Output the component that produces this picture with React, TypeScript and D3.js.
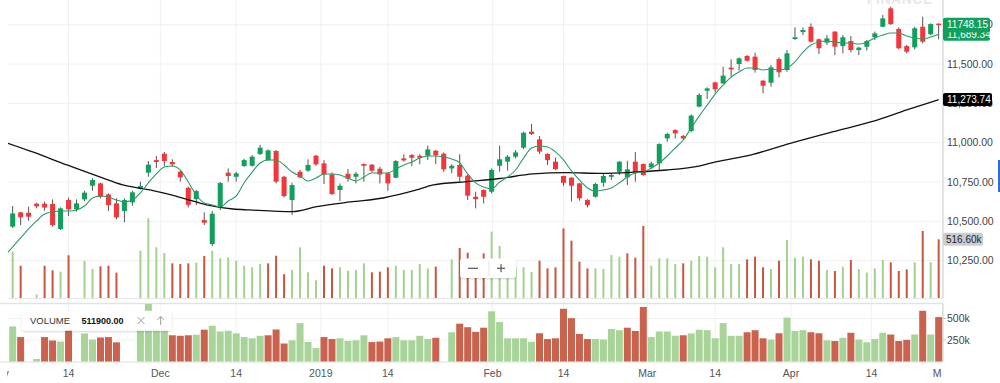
import React from "react";
import * as d3 from "d3";

// ---- Data ----
const opens = [
  10466, 10557, 10554, 10612, 10612, 10610, 10451, 10635, 10576, 10639,
  10726, 10741, 10671, 10614, 10565, 10620, 10707, 10809, 10889, 10930,
  10877, 10815, 10713, 10641, 10508, 10355, 10593, 10809, 10783, 10851,
  10853, 10928, 10889, 10947, 10783, 10635, 10815, 10822, 10917, 10868,
  10798, 10699, 10802, 10783, 10864, 10860, 10834, 10805, 10777, 10900,
  10921, 10917, 10917, 10949, 10930, 10836, 10858, 10790, 10656, 10699,
  10688, 10853, 10879, 10911, 10968, 11070, 11021, 10928, 10879, 10788,
  10777, 10741, 10635, 10656, 10745, 10783, 10815, 10779, 10879, 10864,
  10843, 10868, 11027, 11080, 11042, 11074, 11229, 11330, 11383, 11377,
  11477, 11500, 11551, 11547, 11394, 11381, 11532, 11462, 11659, 11703,
  11737, 11657, 11636, 11706, 11614, 11646, 11589, 11610, 11670, 11737,
  11854, 11723, 11614, 11606, 11737, 11689, 11757,
];
const highs = [
  10597, 10560, 10593, 10618, 10625, 10639, 10588, 10650, 10639, 10694,
  10773, 10745, 10677, 10646, 10646, 10694, 10752, 10883, 10915, 10941,
  10894, 10822, 10720, 10699, 10557, 10565, 10750, 10836, 10815, 10898,
  10921, 10985, 10957, 10953, 10788, 10745, 10826, 10894, 10921, 10889,
  10811, 10741, 10832, 10815, 10868, 10864, 10847, 10811, 10889, 10926,
  10928, 10926, 10981, 10953, 10938, 10862, 10926, 10798, 10688, 10703,
  10836, 10981, 10921, 10953, 11070, 11119, 11042, 10932, 10904, 10790,
  10780, 10744, 10641, 10745, 10805, 10805, 10883, 10885, 10941, 10868,
  10879, 10996, 11063, 11085, 11049, 11180, 11314, 11352, 11388, 11483,
  11530, 11542, 11557, 11572, 11398, 11494, 11542, 11589, 11733, 11733,
  11759, 11663, 11684, 11709, 11684, 11678, 11610, 11653, 11706, 11812,
  11864, 11733, 11621, 11737, 11801, 11759, 11757,
];
const lows = [
  10457, 10476, 10504, 10582, 10567, 10466, 10444, 10533, 10561, 10627,
  10694, 10646, 10565, 10512, 10493, 10599, 10703, 10783, 10839, 10851,
  10845, 10752, 10588, 10603, 10476, 10343, 10572, 10752, 10752, 10847,
  10847, 10921, 10885, 10741, 10652, 10540, 10773, 10815, 10853, 10737,
  10667, 10629, 10752, 10741, 10752, 10811, 10741, 10694, 10773, 10879,
  10851, 10862, 10889, 10864, 10815, 10805, 10752, 10635, 10582, 10614,
  10677, 10815, 10822, 10900, 10959, 11049, 10928, 10858, 10826, 10724,
  10625, 10631, 10588, 10650, 10720, 10762, 10794, 10730, 10752, 10790,
  10832, 10822, 11006, 11027, 11017, 11066, 11225, 11277, 11318, 11373,
  11419, 11458, 11515, 11445, 11314, 11356, 11415, 11451, 11653, 11684,
  11636, 11564, 11621, 11557, 11568, 11574, 11557, 11585, 11653, 11733,
  11748, 11593, 11568, 11593, 11631, 11684, 11657,
];
const closes = [
  10550, 10525, 10529, 10595, 10587, 10476, 10582, 10576, 10614, 10682,
  10762, 10656, 10603, 10525, 10635, 10684, 10724, 10860, 10877, 10883,
  10862, 10779, 10605, 10692, 10491, 10548, 10743, 10788, 10805, 10889,
  10911, 10968, 10951, 10752, 10660, 10730, 10779, 10858, 10862, 10798,
  10673, 10726, 10771, 10802, 10853, 10822, 10798, 10741, 10883, 10887,
  10904, 10904, 10957, 10921, 10830, 10853, 10783, 10663, 10641, 10656,
  10826, 10894, 10911, 10938, 11063, 11055, 10943, 10889, 10832, 10745,
  10726, 10646, 10603, 10737, 10788, 10794, 10879, 10830, 10811, 10794,
  10868, 10991, 11055, 11059, 11027, 11172, 11303, 11345, 11339, 11426,
  11466, 11536, 11521, 11462, 11362, 11479, 11447, 11568, 11670, 11716,
  11642, 11600, 11663, 11610, 11670, 11589, 11604, 11646, 11695, 11790,
  11754, 11600, 11578, 11727, 11642, 11754, 11748.15,
];
// volume in thousands, null = no bar
const volumes: (number | null)[] = [
  408, 284, null, 30, 284, 244, 232, 376, null, 326,
  255, 279, 284, 223, null, null, 416, 702, 446, 396,
  305, 299, 305, 311, 370, 416, 349, 358, 328, 284,
  270, 299, 305, 372, 209, 246, 446, 226, 156, 284,
  261, 270, 240, 246, 305, 226, 232, 270, 284, 246,
  246, 299, 261, 276, null, 340, 440, 399, 345, 393,
  584, 458, 270, 270, 270, 229, 328, 261, 270, 613,
  504, 320, 261, 261, 255, 378, 364, 393, 355, 634,
  284, 349, 349, 299, 305, 328, 370, 364, 270, 446,
  299, 299, 340, 364, 270, 255, 328, 511, 355, 364,
  340, 328, 246, 238, 276, 334, 255, 223, 261, 334,
  314, 238, 252, 314, 590, 314, 516.6,
];
const volumeDir =
  "gr-grrgr-g" + "grrr--gggg" + "rrrgrggggg" + "ggrrrggggr" + "rggggrrrgg" +
  "gggr-grrrr" + "ggggggrrrr" + "rrrggggrrr" + "ggggrggggg" + "ggrrrgrggg" +
  "rrgrgrgggg" + "rrrgrgr";
// short moving average, first value sits one bar before the first candle
const shortMA = [
  10279,
  10337, 10394, 10451, 10502, 10546, 10559, 10565, 10565, 10572, 10597,
  10648, 10661, 10654, 10635, 10623, 10635, 10680, 10744, 10801, 10845,
  10852, 10826, 10750, 10667, 10616, 10604, 10591, 10629, 10661, 10745,
  10813, 10871, 10890, 10890, 10858, 10813, 10788, 10756, 10775, 10801,
  10801, 10794, 10775, 10756, 10782, 10807, 10807, 10807, 10833, 10858,
  10877, 10902, 10915, 10915, 10909, 10896, 10871, 10801, 10744, 10718,
  10705, 10750, 10782, 10826, 10902, 10966, 10979, 10972, 10941, 10890,
  10820, 10763, 10712, 10693, 10699, 10712, 10744, 10782, 10807, 10813,
  10839, 10871, 10915, 10966, 11017, 11093, 11169, 11239, 11309, 11366,
  11417, 11449, 11475, 11475, 11462, 11468, 11462, 11475, 11513, 11576,
  11621, 11640, 11646, 11640, 11634, 11634, 11627, 11640, 11665, 11684,
  11697, 11697, 11678, 11665, 11659, 11672, 11689.34,
];
// long moving average (read at positions along the bar axis)
const longMAIdx = [
  -0.6, 2.5, 6.8, 10.9, 13.8, 17.2, 21.3, 24.3, 27.6, 29.7, 35, 38.1, 42.3, 46.4,
  50.6, 52.7, 56.9, 61, 65.2, 69.4, 73.6, 77.7, 81.9, 86.1, 88.2, 92.4, 97.4,
  102.8, 107.6, 112, 116,
];
const longMAVal = [
  10996, 10941, 10858, 10782, 10731, 10699, 10648, 10604, 10578, 10572, 10561,
  10593, 10623, 10648, 10699, 10731, 10752, 10772, 10801, 10809, 10805, 10812,
  10826, 10853, 10879, 10921, 10996, 11070, 11133, 11208, 11273.74,
];
const priceTicks = [10250, 10500, 10750, 11000, 11250, 11500, 11750];
const volumeTicks = [250, 500];
const volumeTickLabels = ["250k", "500k"];
const xTickLabels = ["Nov", "14", "Dec", "14", "2019", "14", "Feb", "14", "Mar", "14", "Apr", "14", "May"];
const xTickPos = [-1.65, 7, 18.5, 28, 38.6, 47, 60.1, 69, 79.5, 88, 97.5, 107.6, 116.5];
const lastPrice = 11748.15;
const lastShortMA = 11689.34;
const lastLongMA = 11273.74;
const lastVolume = 516.6;
const volumeReadout = "511900.00";

const FONT = "'Liberation Sans', Arial, Helvetica, sans-serif";

export default function App() {
  const W = 1000;
  const H = 383;
  const left = 8;
  const right = 943;
  const topBottom = 298;
  const botTop = 303.5;
  const botBottom = 361.5;

  const x = d3.scaleLinear().domain([0, closes.length - 1]).range([12.67, 938.67]);
  const y = d3.scaleLinear().domain([10250, 11750]).range([260.6, 24.7]);
  const vTop = d3.scaleLinear().domain([0, 516.6]).range([topBottom, 239.3]);
  const vBot = d3.scaleLinear().domain([0, 500]).range([botBottom, 318.5]);

  const fmt = d3.format(",.2f");
  const GREEN = "#0fa05c";
  const RED = "#f2363a";
  const VG = "#a3d190";
  const VR = "#c5573f";
  const VG2 = "#a8d499";
  const VR2 = "#c9634e";

  const shortLine = d3
    .line<number>()
    .x((_, i) => x(i - 1))
    .y((d) => y(d))
    .curve(d3.curveMonotoneX)(shortMA) as string;
  const longLine = d3
    .line<number>()
    .x((_, i) => x(longMAIdx[i]))
    .y((d) => y(d))
    .curve(d3.curveMonotoneX)(longMAVal) as string;

  const bodyW = 5;
  const step = x(1) - x(0);

  return (
    <svg
      width={W}
      height={H}
      style={{ position: "absolute", left: 0, top: 0, background: "#fff", fontFamily: FONT }}
    >
      <defs>
        <clipPath id="topClip">
          <rect x={left} y={0} width={right - left} height={topBottom} />
        </clipPath>
        <clipPath id="botClip">
          <rect x={left} y={botTop + 0.5} width={right - left} height={botBottom - botTop} />
        </clipPath>
        <clipPath id="xlabClip">
          <rect x={7} y={362} width={right - 8} height={21} />
        </clipPath>
        <filter id="shadow" x="-10%" y="-30%" width="120%" height="160%">
          <feDropShadow dx="0" dy="1" stdDeviation="1.2" floodColor="#000" floodOpacity="0.18" />
        </filter>
      </defs>

      {/* watermark */}
      <text x={867} y={4} fontSize={14} fontWeight="bold" fill="#e8e8e8" letterSpacing={0.5}>
        FINANCE
      </text>

      {/* horizontal grid lines (price) */}
      {priceTicks.map((p) => (
        <line key={"hg" + p} x1={left} x2={right} y1={y(p)} y2={y(p)} stroke="#f0f0f0" strokeWidth={1} />
      ))}
      {/* volume panel grid */}
      {volumeTicks.map((v) => (
        <line key={"vg" + v} x1={left} x2={right} y1={vBot(v)} y2={vBot(v)} stroke="#f0f0f0" strokeWidth={1} />
      ))}
      {/* vertical grid lines */}
      {xTickPos.map((p, i) =>
        x(p) > left && x(p) < right ? (
          <line key={"vgl" + i} x1={x(p)} x2={x(p)} y1={0} y2={botBottom} stroke="#f0f0f0" strokeWidth={1} />
        ) : null
      )}

      {/* panel separators */}
      <line x1={left} x2={right} y1={topBottom + 0.5} y2={topBottom + 0.5} stroke="#e6e6e6" />
      <line x1={0} x2={right} y1={botTop} y2={botTop} stroke="#dfe3ea" strokeWidth={1.5} />
      <line x1={0} x2={right} y1={botBottom + 0.5} y2={botBottom + 0.5} stroke="#dddddd" />
      <line x1={right} x2={right} y1={0} y2={topBottom} stroke="#cfcfcf" />
      <line x1={right} x2={right} y1={botTop} y2={botBottom} stroke="#cfcfcf" />

      {/* top panel content */}
      <g clipPath="url(#topClip)">
        {volumes.map((v, i) =>
          v == null ? null : (
            <rect
              key={"vt" + i}
              x={x(i) - 1}
              y={vTop(v)}
              width={2}
              height={vTop(0) - vTop(v)}
              fill={volumeDir[i] === "g" ? VG : VR}
            />
          )
        )}
        {closes.map((c, i) => {
          const o = opens[i];
          const up = c >= o;
          const top = y(Math.max(o, c));
          const bot = y(Math.min(o, c));
          return (
            <g key={"c" + i}>
              <line x1={x(i)} x2={x(i)} y1={y(highs[i])} y2={y(lows[i])} stroke="#555" strokeWidth={1} />
              <rect
                x={x(i) - bodyW / 2}
                y={top}
                width={bodyW}
                height={Math.max(1.5, bot - top)}
                fill={up ? GREEN : RED}
              />
            </g>
          );
        })}
        <path d={longLine} fill="none" stroke="#111" strokeWidth={1.3} />
        <path d={shortLine} fill="none" stroke="#2f9a68" strokeWidth={1.1} />
      </g>

      {/* bottom volume panel */}
      <g clipPath="url(#botClip)">
        {volumes.map((v, i) =>
          v == null ? null : (
            <rect
              key={"vb" + i}
              x={x(i) - step / 2 + 0.5}
              y={vBot(v)}
              width={step - 1}
              height={vBot(0) - vBot(v)}
              fill={volumeDir[i] === "g" ? VG2 : VR2}
            />
          )
        )}
      </g>

      {/* price axis labels */}
      {priceTicks.map((p) => (
        <text key={"pl" + p} x={947} y={y(p)} dy="0.35em" fontSize={10.5} fill="#444">
          {fmt(p)}
        </text>
      ))}
      {/* volume axis labels */}
      {volumeTicks.map((v, i) => (
        <g key={"vl" + v}>
          <line x1={right} x2={right + 3} y1={vBot(v)} y2={vBot(v)} stroke="#cfcfcf" />
          <text x={947} y={vBot(v)} dy="0.35em" fontSize={10.5} fill="#444">
            {volumeTickLabels[i]}
          </text>
        </g>
      ))}

      {/* x axis labels */}
      <g clipPath="url(#xlabClip)">
        {xTickLabels.map((t, i) => (
          <text key={"xl" + i} x={x(xTickPos[i])} y={377} textAnchor="middle" fontSize={10.5} fill="#555">
            {t}
          </text>
        ))}
      </g>

      {/* value tags on right axis */}
      <rect x={943} y={y(lastShortMA) - 6.5} width={47} height={13} rx={2} fill={GREEN} />
      <text x={947} y={y(lastShortMA)} dy="0.35em" fontSize={10} fill="#fff">
        {fmt(lastShortMA)}
      </text>
      <rect x={943} y={y(lastPrice) - 7.3} width={47} height={14.5} rx={2} fill={GREEN} />
      <text x={947} y={y(lastPrice)} dy="0.35em" fontSize={10} fill="#fff">
        {lastPrice.toFixed(2)}
      </text>
      <rect x={943} y={y(lastLongMA) - 6.5} width={49} height={13} rx={2} fill="#000" />
      <text x={947} y={y(lastLongMA)} dy="0.35em" fontSize={10} fill="#fff">
        {fmt(lastLongMA)}
      </text>
      <rect x={943} y={vTop(lastVolume) - 6.5} width={40} height={13} rx={2} fill="#c9ced6" />
      <text x={946} y={vTop(lastVolume)} dy="0.35em" fontSize={10} fill="#222">
        {lastVolume.toFixed(2) + "k"}
      </text>

      {/* right edge blue marker */}
      <rect x={998} y={160} width={2} height={32} fill="#2a6fdb" />

      {/* zoom control */}
      <g filter="url(#shadow)">
        <rect x={460} y={258.5} width={56} height={19.5} rx={3} fill="#fff" />
      </g>
      <line x1={468} x2={478} y1={268.3} y2={268.3} stroke="#555" strokeWidth={1.2} />
      <line x1={489} x2={489} y1={261} y2={276} stroke="#e2e2e2" />
      <line x1={497} x2={505} y1={268.3} y2={268.3} stroke="#555" strokeWidth={1.2} />
      <line x1={501} x2={501} y1={264.3} y2={272.3} stroke="#555" strokeWidth={1.2} />

      {/* volume study label */}
      <g filter="url(#shadow)">
        <rect x={21.7} y={310.7} width={150} height={20} rx={3} fill="#fff" />
      </g>
      <text x={30} y={324} fontSize={9.5} fill="#333">
        VOLUME
      </text>
      <text x={81.5} y={324.3} fontSize={9} fontWeight="bold" fill="#111">
        {volumeReadout}
      </text>
      <line x1={137.5} x2={144.5} y1={317} y2={324} stroke="#999" strokeWidth={1} />
      <line x1={144.5} x2={137.5} y1={317} y2={324} stroke="#999" strokeWidth={1} />
      <line x1={160.7} x2={160.7} y1={316.5} y2={325} stroke="#999" strokeWidth={1} />
      <line x1={157.5} x2={160.7} y1={319.8} y2={316.5} stroke="#999" strokeWidth={1} />
      <line x1={163.9} x2={160.7} y1={319.8} y2={316.5} stroke="#999" strokeWidth={1} />
    </svg>
  );
}
